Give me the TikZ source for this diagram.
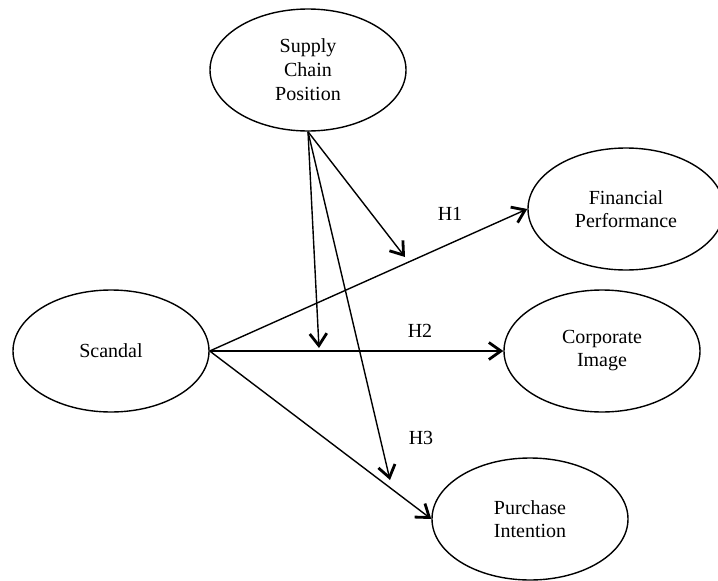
\documentclass[tikz,border=0pt]{standalone}
\usepackage{fontspec}
\setmainfont{Liberation Serif}
\usepackage{tikz}
\usetikzlibrary{arrows.meta,shapes.geometric,calc}

\begin{document}
\begin{tikzpicture}[x=1pt,y=-1pt]
\tikzstyle{var}=[draw,line width=1.4pt,shape=ellipse,minimum width=196pt,
      minimum height=122pt,inner sep=0pt,align=center,
      font=\fontsize{20}{23}\selectfont]
\tikzstyle{hyp}=[font=\fontsize{20}{23}\selectfont]
\tikzstyle{path}=[->,line width=1.4pt]
\tikzset{>={Straight Barb[length=12pt,width=17pt,line width=2.8pt]}}
\useasboundingbox (0,0) rectangle (718,581);
\node[var] (scp) at (308,70) {Supply\\[1pt]Chain\\[1pt]Position};
\node[var] (scandal) at (111,351) {Scandal};
\node[var] (fin) at (626,209) {Financial\\Performance};
\node[var] (corp) at (602,351) {Corporate\\Image};
\node[var] (purch) at (530,519) {Purchase\\Intention};
\node[hyp] (H1) at (450,214) {H1};
\node[hyp] (H2) at (420,331) {H2};
\node[hyp] (H3) at (421,438) {H3};
\coordinate (m1) at (405,257);
\coordinate (m2) at (319,348);
\coordinate (m3) at (390,480);
\draw[path] (scandal.east) -- (fin.west);
\draw[path] (scandal.east) -- (corp.west);
\draw[path] (scandal.east) -- (purch.west);
\draw[path] (scp.south) -- (m1);
\draw[path] (scp.south) -- (m2);
\draw[path] (scp.south) -- (m3);
\end{tikzpicture}
\end{document}
